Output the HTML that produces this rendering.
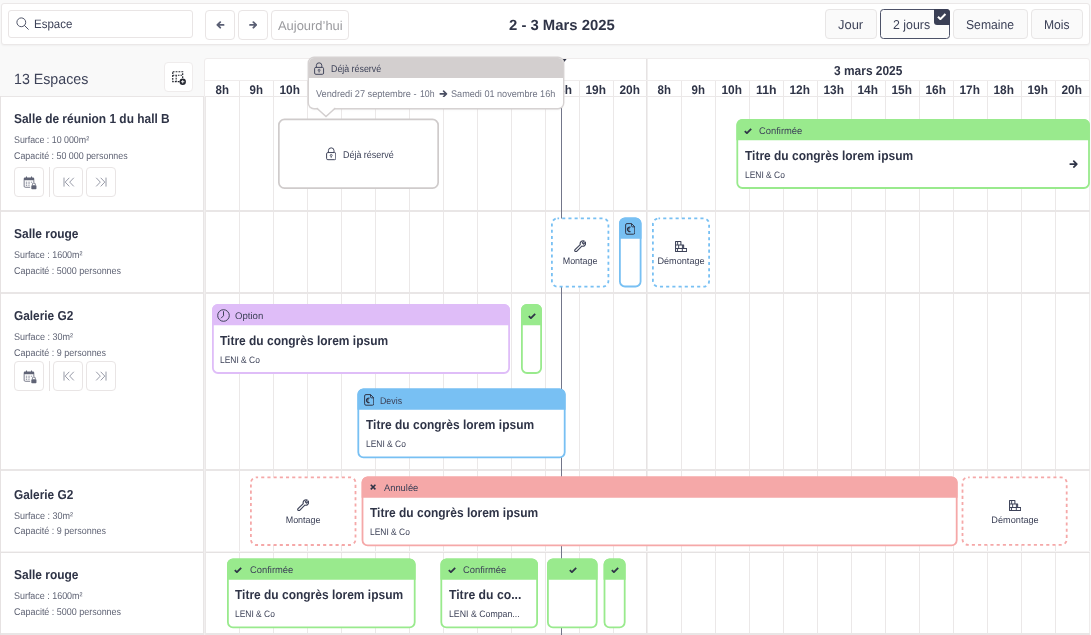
<!DOCTYPE html>
<html lang="fr">
<head>
<meta charset="utf-8">
<title>Planning des espaces</title>
<style>
html,body{margin:0;padding:0;}
body{width:1091px;height:635px;overflow:hidden;background:#f9f9f9;font-family:"Liberation Sans",sans-serif;}
#app{position:relative;width:1091px;height:635px;overflow:hidden;background:#f9f9f9;}
#app div,#app svg{box-sizing:border-box;}
.t{position:absolute;white-space:nowrap;line-height:1;}
.btn{background:#fff;border:1px solid #e9e5e5;border-radius:4px;}
.vl{position:absolute;width:1px;background:#ebe8e8;}
.hl{position:absolute;height:2px;background:#e9e6e6;}
</style>
</head>
<body>
<div id="app">

<div class="" style="position:absolute;left:1px;top:3px;width:1089px;height:42px;background:#fff;border:1px solid #ebe8e8;border-radius:3px;box-shadow:0 1px 2px rgba(0,0,0,0.04);"></div>
<div class="btn" style="position:absolute;left:8px;top:10px;width:185px;height:28px;border-radius:3px;"></div>
<svg style="position:absolute;left:16px;top:17px;" width="13" height="13" viewBox="0 0 26 26"><circle cx="10.6" cy="10.6" r="8.8" fill="none" stroke="#4a4f63" stroke-width="1.9"/><path d="M17 17 L24.6 24.6" stroke="#4a4f63" stroke-width="2" stroke-linecap="round"/></svg>
<div class="t " style="left:33.85px;top:18.15px;font-size:12.1px;color:#3d4258;transform-origin:0 0;transform:scaleX(0.9514) rotate(0.04deg);">Espace</div>
<div class="btn" style="position:absolute;left:205px;top:10px;width:30px;height:30px;"></div>
<svg style="position:absolute;left:216.2px;top:20.9px;" width="8.6" height="7.9" viewBox="0 0 20 18"><g transform="translate(20 0) scale(-1 1)"><path d="M2.4 9 H16.4 M10.2 2.6 L16.8 9 L10.2 15.4" fill="none" stroke="#5a5f74" stroke-width="4.2" stroke-linecap="round" stroke-linejoin="round"/></g></svg>
<div class="btn" style="position:absolute;left:238px;top:10px;width:30px;height:30px;"></div>
<svg style="position:absolute;left:248.8px;top:20.9px;" width="8.6" height="7.9" viewBox="0 0 20 18"><g><path d="M2.4 9 H16.4 M10.2 2.6 L16.8 9 L10.2 15.4" fill="none" stroke="#5a5f74" stroke-width="4.2" stroke-linecap="round" stroke-linejoin="round"/></g></svg>
<div class="btn" style="position:absolute;left:271px;top:10px;width:78px;height:30px;"></div>
<div class="t " style="left:278.15px;top:20.05px;font-size:12.9px;color:#9a9a9e;transform-origin:0 0;transform:scaleX(1.0024) rotate(0.04deg);">Aujourd’hui</div>
<div class="t " style="left:509.45px;top:18.4px;font-size:14.8px;color:#2f3447;transform-origin:0 0;transform:scaleX(1.0037) rotate(0.04deg);font-weight:700;">2 - 3 Mars 2025</div>
<div class="btn" style="position:absolute;left:825px;top:9px;width:52px;height:30px;background:#fafafa;border-color:#e8e6e6;"></div>
<div class="t " style="left:837.95px;top:19.05px;font-size:12.9px;color:#3d4258;transform-origin:0 0;transform:scaleX(1.0042) rotate(0.04deg);">Jour</div>
<div class="btn" style="position:absolute;left:880px;top:9px;width:70px;height:30px;border:1px solid #4d5268;border-radius:3.5px;background:#fbfbfb;"></div>
<div class="t " style="left:892.55px;top:19.05px;font-size:12.9px;color:#3d4258;transform-origin:0 0;transform:scaleX(0.9582) rotate(0.04deg);">2 jours</div>
<div class="" style="position:absolute;left:934px;top:9px;width:16px;height:15.6px;background:#3a3f55;border-radius:0 3.5px 0 3px;"></div>
<svg style="position:absolute;left:937.3px;top:13.28px;" width="9.4" height="7.05" viewBox="0 0 16 12"><path d="M1.6 6.4 L5.8 10.4 L14.4 1.8" fill="none" stroke="#fff" stroke-width="3.5" stroke-linecap="butt" stroke-linejoin="miter"/></svg>
<div class="btn" style="position:absolute;left:953px;top:9px;width:75px;height:30px;background:#fafafa;border-color:#e8e6e6;"></div>
<div class="t " style="left:965.85px;top:19.05px;font-size:12.9px;color:#3d4258;transform-origin:0 0;transform:scaleX(0.9447) rotate(0.04deg);">Semaine</div>
<div class="btn" style="position:absolute;left:1031px;top:9px;width:52px;height:30px;background:#fafafa;border-color:#e8e6e6;"></div>
<div class="t " style="left:1043.95px;top:19.05px;font-size:12.9px;color:#3d4258;transform-origin:0 0;transform:scaleX(0.9399) rotate(0.04deg);">Mois</div>
<div class="t " style="left:13.75px;top:71.7px;font-size:14.8px;color:#3d4258;transform-origin:0 0;transform:scaleX(0.9607) rotate(0.04deg);">13 Espaces</div>
<div class="btn" style="position:absolute;left:164px;top:62px;width:29px;height:30px;border-color:#efecec;"></div>
<svg style="position:absolute;left:172px;top:71px;" width="14.4" height="14.4" viewBox="0 0 29 29"><rect x="1.5" y="1.5" width="20" height="20" fill="none" stroke="#23262f" stroke-width="2.4" stroke-dasharray="3.6 2.2"/><path d="M1.5 8.6 H21.5 M8.4 8.6 V21.5" fill="none" stroke="#23262f" stroke-width="2.2" stroke-dasharray="3.2 2"/><circle cx="21.6" cy="21.6" r="6.4" fill="#23262f"/><path d="M21.6 18.2 V25 M18.2 21.6 H25" stroke="#fff" stroke-width="1.8"/></svg>
<div class="" style="position:absolute;left:204px;top:58px;width:886px;height:580px;background:#fff;border:1px solid #efecec;border-radius:3px 3px 0 0;"></div>
<div class="" style="position:absolute;left:0px;top:96px;width:204px;height:540px;background:#fff;"></div>
<div class="vl" style="left:239px;top:81px;height:554px;"></div>
<div class="vl" style="left:273px;top:81px;height:554px;"></div>
<div class="vl" style="left:307px;top:81px;height:554px;"></div>
<div class="vl" style="left:341px;top:81px;height:554px;"></div>
<div class="vl" style="left:375px;top:81px;height:554px;"></div>
<div class="vl" style="left:409px;top:81px;height:554px;"></div>
<div class="vl" style="left:443px;top:81px;height:554px;"></div>
<div class="vl" style="left:477px;top:81px;height:554px;"></div>
<div class="vl" style="left:511px;top:81px;height:554px;"></div>
<div class="vl" style="left:545px;top:81px;height:554px;"></div>
<div class="vl" style="left:579px;top:81px;height:554px;"></div>
<div class="vl" style="left:613px;top:81px;height:554px;"></div>
<div class="vl" style="left:647px;top:59px;height:576px;background:#f1efef;"></div>
<div class="vl" style="left:646px;top:59px;height:576px;background:#e6e3e3;"></div>
<div class="vl" style="left:681px;top:81px;height:554px;"></div>
<div class="vl" style="left:715px;top:81px;height:554px;"></div>
<div class="vl" style="left:749px;top:81px;height:554px;"></div>
<div class="vl" style="left:783px;top:81px;height:554px;"></div>
<div class="vl" style="left:817px;top:81px;height:554px;"></div>
<div class="vl" style="left:851px;top:81px;height:554px;"></div>
<div class="vl" style="left:885px;top:81px;height:554px;"></div>
<div class="vl" style="left:919px;top:81px;height:554px;"></div>
<div class="vl" style="left:953px;top:81px;height:554px;"></div>
<div class="vl" style="left:987px;top:81px;height:554px;"></div>
<div class="vl" style="left:1021px;top:81px;height:554px;"></div>
<div class="vl" style="left:1055px;top:81px;height:554px;"></div>
<div class="" style="position:absolute;left:205px;top:80px;width:884px;height:1px;background:#efecec;"></div>
<div class="hl" style="left:0;top:96px;width:204px;height:1px;"></div>
<div class="hl" style="left:204px;top:96px;width:886px;height:1px;background:#ebe8e8;"></div>
<div class="hl" style="left:0;top:210px;width:1090px;height:2px;"></div>
<div class="hl" style="left:0;top:292px;width:1090px;height:2px;"></div>
<div class="hl" style="left:0;top:469px;width:1090px;height:2px;"></div>
<div class="hl" style="left:0;top:551px;width:1090px;height:1px;background:#f5f3f3;"></div>
<div class="hl" style="left:0;top:552px;width:1090px;height:1px;background:#e5e2e2;"></div>
<div class="hl" style="left:0;top:633px;width:1090px;height:2px;"></div>
<div class="" style="position:absolute;left:203px;top:96px;width:1px;height:540px;background:#e8e5e5;"></div>
<div class="" style="position:absolute;left:204px;top:96px;width:1px;height:540px;background:#f1efef;"></div>
<div class="" style="position:absolute;left:205px;top:96px;width:1px;height:540px;background:#ebe8e8;"></div>
<div class="" style="position:absolute;left:0px;top:96px;width:1px;height:540px;background:#e6e2e2;"></div>
<div class="t " style="left:388.77px;top:64px;font-size:13px;color:#2f3447;transform-origin:50% 0;transform:scaleX(0.9174) rotate(0.04deg);font-weight:700;">2 mars 2025</div>
<div class="t " style="left:831.37px;top:64px;font-size:13px;color:#2f3447;transform-origin:50% 0;transform:scaleX(0.9174) rotate(0.04deg);font-weight:700;">3 mars 2025</div>
<div class="t " style="left:214.86px;top:84.2px;font-size:12.4px;color:#2f3447;transform-origin:50% 0;transform:scaleX(0.9260) rotate(0.04deg);font-weight:700;">8h</div>
<div class="t " style="left:248.86px;top:84.2px;font-size:12.4px;color:#2f3447;transform-origin:50% 0;transform:scaleX(0.9260) rotate(0.04deg);font-weight:700;">9h</div>
<div class="t " style="left:279.42px;top:84.2px;font-size:12.4px;color:#2f3447;transform-origin:50% 0;transform:scaleX(0.9594) rotate(0.04deg);font-weight:700;">10h</div>
<div class="t " style="left:313.76px;top:84.2px;font-size:12.4px;color:#2f3447;transform-origin:50% 0;transform:scaleX(0.9911) rotate(0.04deg);font-weight:700;">11h</div>
<div class="t " style="left:347.42px;top:84.2px;font-size:12.4px;color:#2f3447;transform-origin:50% 0;transform:scaleX(0.9594) rotate(0.04deg);font-weight:700;">12h</div>
<div class="t " style="left:381.42px;top:84.2px;font-size:12.4px;color:#2f3447;transform-origin:50% 0;transform:scaleX(0.9594) rotate(0.04deg);font-weight:700;">13h</div>
<div class="t " style="left:415.42px;top:84.2px;font-size:12.4px;color:#2f3447;transform-origin:50% 0;transform:scaleX(0.9594) rotate(0.04deg);font-weight:700;">14h</div>
<div class="t " style="left:449.42px;top:84.2px;font-size:12.4px;color:#2f3447;transform-origin:50% 0;transform:scaleX(0.9594) rotate(0.04deg);font-weight:700;">15h</div>
<div class="t " style="left:483.42px;top:84.2px;font-size:12.4px;color:#2f3447;transform-origin:50% 0;transform:scaleX(0.9594) rotate(0.04deg);font-weight:700;">16h</div>
<div class="t " style="left:517.42px;top:84.2px;font-size:12.4px;color:#2f3447;transform-origin:50% 0;transform:scaleX(0.9594) rotate(0.04deg);font-weight:700;">17h</div>
<div class="t " style="left:551.42px;top:84.2px;font-size:12.4px;color:#2f3447;transform-origin:50% 0;transform:scaleX(0.9594) rotate(0.04deg);font-weight:700;">18h</div>
<div class="t " style="left:585.42px;top:84.2px;font-size:12.4px;color:#2f3447;transform-origin:50% 0;transform:scaleX(0.9594) rotate(0.04deg);font-weight:700;">19h</div>
<div class="t " style="left:619.42px;top:84.2px;font-size:12.4px;color:#2f3447;transform-origin:50% 0;transform:scaleX(0.9594) rotate(0.04deg);font-weight:700;">20h</div>
<div class="t " style="left:656.86px;top:84.2px;font-size:12.4px;color:#2f3447;transform-origin:50% 0;transform:scaleX(0.9260) rotate(0.04deg);font-weight:700;">8h</div>
<div class="t " style="left:690.86px;top:84.2px;font-size:12.4px;color:#2f3447;transform-origin:50% 0;transform:scaleX(0.9260) rotate(0.04deg);font-weight:700;">9h</div>
<div class="t " style="left:721.42px;top:84.2px;font-size:12.4px;color:#2f3447;transform-origin:50% 0;transform:scaleX(0.9594) rotate(0.04deg);font-weight:700;">10h</div>
<div class="t " style="left:755.76px;top:84.2px;font-size:12.4px;color:#2f3447;transform-origin:50% 0;transform:scaleX(0.9911) rotate(0.04deg);font-weight:700;">11h</div>
<div class="t " style="left:789.42px;top:84.2px;font-size:12.4px;color:#2f3447;transform-origin:50% 0;transform:scaleX(0.9594) rotate(0.04deg);font-weight:700;">12h</div>
<div class="t " style="left:823.42px;top:84.2px;font-size:12.4px;color:#2f3447;transform-origin:50% 0;transform:scaleX(0.9594) rotate(0.04deg);font-weight:700;">13h</div>
<div class="t " style="left:857.42px;top:84.2px;font-size:12.4px;color:#2f3447;transform-origin:50% 0;transform:scaleX(0.9594) rotate(0.04deg);font-weight:700;">14h</div>
<div class="t " style="left:891.42px;top:84.2px;font-size:12.4px;color:#2f3447;transform-origin:50% 0;transform:scaleX(0.9594) rotate(0.04deg);font-weight:700;">15h</div>
<div class="t " style="left:925.42px;top:84.2px;font-size:12.4px;color:#2f3447;transform-origin:50% 0;transform:scaleX(0.9594) rotate(0.04deg);font-weight:700;">16h</div>
<div class="t " style="left:959.42px;top:84.2px;font-size:12.4px;color:#2f3447;transform-origin:50% 0;transform:scaleX(0.9594) rotate(0.04deg);font-weight:700;">17h</div>
<div class="t " style="left:993.42px;top:84.2px;font-size:12.4px;color:#2f3447;transform-origin:50% 0;transform:scaleX(0.9594) rotate(0.04deg);font-weight:700;">18h</div>
<div class="t " style="left:1027.42px;top:84.2px;font-size:12.4px;color:#2f3447;transform-origin:50% 0;transform:scaleX(0.9594) rotate(0.04deg);font-weight:700;">19h</div>
<div class="t " style="left:1061.42px;top:84.2px;font-size:12.4px;color:#2f3447;transform-origin:50% 0;transform:scaleX(0.9594) rotate(0.04deg);font-weight:700;">20h</div>
<div class="t " style="left:14.15px;top:112px;font-size:13px;color:#2f3447;transform-origin:0 0;transform:scaleX(0.9172) rotate(0.04deg);font-weight:700;">Salle de réunion 1 du hall B</div>
<div class="t " style="left:14.15px;top:135.2px;font-size:9.8px;color:#5f6374;transform-origin:0 0;transform:scaleX(0.9011) rotate(0.04deg);">Surface : 10 000m²</div>
<div class="t " style="left:14.15px;top:151px;font-size:9.8px;color:#5f6374;transform-origin:0 0;transform:scaleX(0.9073) rotate(0.04deg);">Capacité : 50 000 personnes</div>
<div class="btn" style="position:absolute;left:14px;top:167px;width:30px;height:30px;"></div>
<svg style="position:absolute;left:22.8px;top:176.2px;" width="14.2" height="13.7" viewBox="0 0 27 26"><path d="M1.4 5.4 a2.4 2.4 0 0 1 2.4 -2.4 H19 a2.4 2.4 0 0 1 2.4 2.4 V8 H1.4 Z" fill="#5f6375"/><path d="M6.6 0.8 V4 M16.2 0.8 V4" stroke="#5f6375" stroke-width="2"/><path d="M2.2 8 V19.4 a2 2 0 0 0 2 2 H13.6 M20.6 8 V11.6" fill="none" stroke="#5f6375" stroke-width="1.6"/><path d="M5.4 11.8 H8 M10.2 11.8 H12.8 M15 11.8 H17.4 M5.4 14.8 H8 M10.2 14.8 H12.8 M5.4 17.8 H8 M10.2 17.8 H12.4" stroke="#777b8b" stroke-width="1.6"/><rect x="15.8" y="17.4" width="9.8" height="7.8" rx="1.4" fill="#5f6375"/><path d="M18 17.6 V15.8 a2.7 2.7 0 0 1 5.4 0 V17.6" fill="none" stroke="#5f6375" stroke-width="1.7"/></svg>
<div class="" style="position:absolute;left:49px;top:167px;width:1px;height:30px;background:#e6e2e2;"></div>
<div class="btn" style="position:absolute;left:53px;top:167px;width:30px;height:30px;"></div>
<svg style="position:absolute;left:62.8px;top:177.4px;" width="12" height="10.2" viewBox="0 0 24 20"><path d="M2 1 V19 M12.6 1.4 L4.4 10 L12.6 18.6 M21.6 1.4 L13.4 10 L21.6 18.6" fill="none" stroke="#747889" stroke-width="1.5"/></svg>
<div class="btn" style="position:absolute;left:86px;top:167px;width:30px;height:30px;"></div>
<svg style="position:absolute;left:95.2px;top:177.4px;" width="12" height="10.2" viewBox="0 0 24 20"><path d="M22 1 V19 M11.4 1.4 L19.6 10 L11.4 18.6 M2.4 1.4 L10.6 10 L2.4 18.6" fill="none" stroke="#747889" stroke-width="1.5"/></svg>
<div class="t " style="left:14.15px;top:227px;font-size:13px;color:#2f3447;transform-origin:0 0;transform:scaleX(0.9204) rotate(0.04deg);font-weight:700;">Salle rouge</div>
<div class="t " style="left:14.15px;top:250px;font-size:9.8px;color:#5f6374;transform-origin:0 0;transform:scaleX(0.9112) rotate(0.04deg);">Surface : 1600m²</div>
<div class="t " style="left:14.15px;top:265.6px;font-size:9.8px;color:#5f6374;transform-origin:0 0;transform:scaleX(0.9143) rotate(0.04deg);">Capacité : 5000 personnes</div>
<div class="t " style="left:14.15px;top:309px;font-size:13px;color:#2f3447;transform-origin:0 0;transform:scaleX(0.9118) rotate(0.04deg);font-weight:700;">Galerie G2</div>
<div class="t " style="left:14.15px;top:332px;font-size:9.8px;color:#5f6374;transform-origin:0 0;transform:scaleX(0.9195) rotate(0.04deg);">Surface : 30m²</div>
<div class="t " style="left:14.15px;top:347.6px;font-size:9.8px;color:#5f6374;transform-origin:0 0;transform:scaleX(0.9138) rotate(0.04deg);">Capacité : 9 personnes</div>
<div class="btn" style="position:absolute;left:14px;top:361px;width:30px;height:30px;"></div>
<svg style="position:absolute;left:22.8px;top:370.2px;" width="14.2" height="13.7" viewBox="0 0 27 26"><path d="M1.4 5.4 a2.4 2.4 0 0 1 2.4 -2.4 H19 a2.4 2.4 0 0 1 2.4 2.4 V8 H1.4 Z" fill="#5f6375"/><path d="M6.6 0.8 V4 M16.2 0.8 V4" stroke="#5f6375" stroke-width="2"/><path d="M2.2 8 V19.4 a2 2 0 0 0 2 2 H13.6 M20.6 8 V11.6" fill="none" stroke="#5f6375" stroke-width="1.6"/><path d="M5.4 11.8 H8 M10.2 11.8 H12.8 M15 11.8 H17.4 M5.4 14.8 H8 M10.2 14.8 H12.8 M5.4 17.8 H8 M10.2 17.8 H12.4" stroke="#777b8b" stroke-width="1.6"/><rect x="15.8" y="17.4" width="9.8" height="7.8" rx="1.4" fill="#5f6375"/><path d="M18 17.6 V15.8 a2.7 2.7 0 0 1 5.4 0 V17.6" fill="none" stroke="#5f6375" stroke-width="1.7"/></svg>
<div class="" style="position:absolute;left:49px;top:361px;width:1px;height:30px;background:#e6e2e2;"></div>
<div class="btn" style="position:absolute;left:53px;top:361px;width:30px;height:30px;"></div>
<svg style="position:absolute;left:62.8px;top:371.4px;" width="12" height="10.2" viewBox="0 0 24 20"><path d="M2 1 V19 M12.6 1.4 L4.4 10 L12.6 18.6 M21.6 1.4 L13.4 10 L21.6 18.6" fill="none" stroke="#747889" stroke-width="1.5"/></svg>
<div class="btn" style="position:absolute;left:86px;top:361px;width:30px;height:30px;"></div>
<svg style="position:absolute;left:95.2px;top:371.4px;" width="12" height="10.2" viewBox="0 0 24 20"><path d="M22 1 V19 M11.4 1.4 L19.6 10 L11.4 18.6 M2.4 1.4 L10.6 10 L2.4 18.6" fill="none" stroke="#747889" stroke-width="1.5"/></svg>
<div class="t " style="left:14.15px;top:487.6px;font-size:13px;color:#2f3447;transform-origin:0 0;transform:scaleX(0.9118) rotate(0.04deg);font-weight:700;">Galerie G2</div>
<div class="t " style="left:14.15px;top:511px;font-size:9.8px;color:#5f6374;transform-origin:0 0;transform:scaleX(0.9195) rotate(0.04deg);">Surface : 30m²</div>
<div class="t " style="left:14.15px;top:526.4px;font-size:9.8px;color:#5f6374;transform-origin:0 0;transform:scaleX(0.9138) rotate(0.04deg);">Capacité : 9 personnes</div>
<div class="t " style="left:14.15px;top:568.4px;font-size:13px;color:#2f3447;transform-origin:0 0;transform:scaleX(0.9204) rotate(0.04deg);font-weight:700;">Salle rouge</div>
<div class="t " style="left:14.15px;top:591px;font-size:9.8px;color:#5f6374;transform-origin:0 0;transform:scaleX(0.9112) rotate(0.04deg);">Surface : 1600m²</div>
<div class="t " style="left:14.15px;top:606.6px;font-size:9.8px;color:#5f6374;transform-origin:0 0;transform:scaleX(0.9143) rotate(0.04deg);">Capacité : 5000 personnes</div>
<div class="" style="position:absolute;left:560.9px;top:59px;width:1.3px;height:576px;background:#73768a;"></div>
<svg style="position:absolute;left:561.4px;top:58.8px;" width="5.6" height="3.6" viewBox="0 0 10 6"><path d="M0 0 H10 L5 6 Z" fill="#2f3447"/></svg>
<svg style="position:absolute;left:277px;top:117px;" width="163" height="73" viewBox="0 0 163 73"><rect x="1.85" y="2.45" width="159.3" height="68.7" rx="5.65" fill="#fff" stroke="#cfcbcb" stroke-width="1.7"/></svg>
<svg style="position:absolute;left:325.6px;top:147.2px;" width="10.4" height="13.4" viewBox="0 0 21 27"><rect x="1.2" y="11.2" width="18.6" height="14.4" rx="2.6" fill="none" stroke="#3d4258" stroke-width="2"/><path d="M4.8 11 V7.4 a5.7 5.7 0 0 1 11.4 0 V11" fill="none" stroke="#3d4258" stroke-width="2"/><circle cx="10.5" cy="17" r="2" fill="none" stroke="#3d4258" stroke-width="1.6"/><path d="M10.5 19 V22" stroke="#3d4258" stroke-width="1.6"/></svg>
<div class="t " style="left:342.55px;top:150px;font-size:9.8px;color:#3d4258;transform-origin:0 0;transform:scaleX(0.9126) rotate(0.04deg);">Déjà réservé</div>
<svg style="position:absolute;left:735px;top:118px;" width="356" height="72" viewBox="0 0 356 72"><rect x="2.3" y="1.9" width="351.7" height="68.1" rx="5.1" fill="#fff" stroke="#99ea8d" stroke-width="1.8"/><path d="M1.4 22.3 V7 a6 6 0 0 1 6 -6 H348.9 a6 6 0 0 1 6 6 V22.3 Z" fill="#99ea8d"/></svg>
<svg style="position:absolute;left:743.8px;top:128px;" width="8" height="6" viewBox="0 0 16 12"><path d="M1.6 6.4 L5.8 10.4 L14.4 1.8" fill="none" stroke="#2f3447" stroke-width="3.5" stroke-linecap="butt" stroke-linejoin="miter"/></svg>
<div class="t " style="left:758.95px;top:126.3px;font-size:9.6px;color:#3d4258;transform-origin:0 0;transform:scaleX(0.9778) rotate(0.04deg);">Confirmée</div>
<div class="t " style="left:744.65px;top:148.6px;font-size:13px;color:#2f3447;transform-origin:0 0;transform:scaleX(0.9210) rotate(0.04deg);font-weight:700;">Titre du congrès lorem ipsum</div>
<div class="t " style="left:744.65px;top:170.85px;font-size:9.3px;color:#3d4258;transform-origin:0 0;transform:scaleX(0.9082) rotate(0.04deg);">LENI &amp; Co</div>
<svg style="position:absolute;left:1068.9px;top:160px;" width="9.4" height="8.2" viewBox="0 0 20 18"><g><path d="M2.4 9 H16.4 M10.2 2.6 L16.8 9 L10.2 15.4" fill="none" stroke="#2f3447" stroke-width="3.8" stroke-linecap="round" stroke-linejoin="round"/></g></svg>
<svg style="position:absolute;left:550px;top:216px;" width="61" height="73" viewBox="0 0 61 73"><rect x="1.9" y="2.4" width="56.5" height="68.3" rx="5.6" fill="#fff" stroke="#78c0f3" stroke-width="1.8" stroke-dasharray="3.1 3.1" stroke-dashoffset="1.5"/></svg>
<svg style="position:absolute;left:573.85px;top:239.9px;" width="12.4" height="12.4" viewBox="0 0 25 25"><path d="M2.2 22.8 a2.3 2.3 0 0 1 0 -3.2 L12.6 9.2 a6 6 0 0 1 8 -7.2 L16.8 5.8 L19.2 8.2 L23 4.4 a6 6 0 0 1 -7.2 8 L5.4 22.8 a2.3 2.3 0 0 1 -3.2 0 Z" fill="none" stroke="#3d4258" stroke-width="2.3" stroke-linejoin="round"/></svg>
<div class="t " style="left:562.05px;top:256.95px;font-size:9.3px;color:#3d4258;transform-origin:50% 0;transform:scaleX(0.9615) rotate(0.04deg);">Montage</div>
<svg style="position:absolute;left:618px;top:216px;" width="25" height="73" viewBox="0 0 25 73"><rect x="1.9" y="2.4" width="20.7" height="68.1" rx="5.1" fill="#fff" stroke="#78c0f3" stroke-width="1.8"/><path d="M1 22.8 V7.5 a6 6 0 0 1 6 -6 H17.5 a6 6 0 0 1 6 6 V22.8 Z" fill="#78c0f3"/></svg>
<svg style="position:absolute;left:624.95px;top:223.3px;" width="10.4" height="11.8" viewBox="0 0 21 24"><path d="M4 1.2 H13.2 L19.8 7.8 V20 a2.8 2.8 0 0 1 -2.8 2.8 H4 a2.8 2.8 0 0 1 -2.8 -2.8 V4 a2.8 2.8 0 0 1 2.8 -2.8 Z" fill="none" stroke="#2f3447" stroke-width="2"/><path d="M13.2 1.2 V5.6 a2.2 2.2 0 0 0 2.2 2.2 H19.8" fill="none" stroke="#2f3447" stroke-width="2"/><path d="M11.2 8.6 a4.6 4.6 0 1 0 0 8.6" fill="none" stroke="#2f3447" stroke-width="2.4"/><path d="M4.4 11.6 H9.6 M4.4 14.4 H9.2" fill="none" stroke="#2f3447" stroke-width="1.6"/></svg>
<svg style="position:absolute;left:651px;top:216px;" width="60" height="73" viewBox="0 0 60 73"><rect x="1.9" y="2.4" width="56.2" height="68.3" rx="5.6" fill="#fff" stroke="#78c0f3" stroke-width="1.8" stroke-dasharray="3.1 3.1" stroke-dashoffset="1.5"/></svg>
<svg style="position:absolute;left:674.9px;top:241.1px;" width="12.2" height="11.2" viewBox="0 0 24 22"><path d="M1.1 1.1 H11.6 V7.8 H17 V14.7 H22.9 V20.9 H1.1 Z M1.1 7.8 H11.6 M1.1 14.7 H17" fill="none" stroke="#3d4258" stroke-width="2.1" stroke-linejoin="round"/><path d="M5.2 1.1 V7.8 M7.2 7.8 V14.7 M14.6 7.8 V14.7 M5 14.7 V20.9 M14.4 14.7 V20.9" fill="none" stroke="#3d4258" stroke-width="1.9"/></svg>
<div class="t " style="left:656.96px;top:256.95px;font-size:9.3px;color:#3d4258;transform-origin:50% 0;transform:scaleX(0.9817) rotate(0.04deg);">Démontage</div>
<svg style="position:absolute;left:211px;top:303px;" width="300" height="72" viewBox="0 0 300 72"><rect x="1.9" y="1.9" width="296.2" height="68.1" rx="5.1" fill="#fff" stroke="#dfbdf8" stroke-width="1.8"/><path d="M1 22.3 V7 a6 6 0 0 1 6 -6 H293 a6 6 0 0 1 6 6 V22.3 Z" fill="#dfbdf8"/></svg>
<svg style="position:absolute;left:217px;top:308.6px;" width="13" height="13" viewBox="0 0 26 26"><circle cx="13" cy="13" r="11.6" fill="none" stroke="#3d4258" stroke-width="2"/><path d="M13 4.5 V13.5 L8 18.5" fill="none" stroke="#3d4258" stroke-width="2"/></svg>
<div class="t " style="left:234.55px;top:311.3px;font-size:9.6px;color:#3d4258;transform-origin:0 0;transform:scaleX(1.0005) rotate(0.04deg);">Option</div>
<div class="t " style="left:220.25px;top:333.6px;font-size:13px;color:#2f3447;transform-origin:0 0;transform:scaleX(0.9210) rotate(0.04deg);font-weight:700;">Titre du congrès lorem ipsum</div>
<div class="t " style="left:220.25px;top:355.85px;font-size:9.3px;color:#3d4258;transform-origin:0 0;transform:scaleX(0.9082) rotate(0.04deg);">LENI &amp; Co</div>
<svg style="position:absolute;left:520px;top:303px;" width="23" height="72" viewBox="0 0 23 72"><rect x="1.9" y="1.9" width="19.2" height="68.1" rx="5.1" fill="#fff" stroke="#99ea8d" stroke-width="1.8"/><path d="M1 22.3 V7 a6 6 0 0 1 6 -6 H16 a6 6 0 0 1 6 6 V22.3 Z" fill="#99ea8d"/></svg>
<svg style="position:absolute;left:527.7px;top:312.6px;" width="8" height="6" viewBox="0 0 16 12"><path d="M1.6 6.4 L5.8 10.4 L14.4 1.8" fill="none" stroke="#2f3447" stroke-width="3.5" stroke-linecap="butt" stroke-linejoin="miter"/></svg>
<svg style="position:absolute;left:356px;top:387px;" width="211" height="73" viewBox="0 0 211 73"><rect x="2.3" y="2.3" width="206.4" height="68.1" rx="5.1" fill="#fff" stroke="#78c0f3" stroke-width="1.8"/><path d="M1.4 22.7 V7.4 a6 6 0 0 1 6 -6 H203.6 a6 6 0 0 1 6 6 V22.7 Z" fill="#78c0f3"/></svg>
<svg style="position:absolute;left:364px;top:394.1px;" width="10.4" height="11.8" viewBox="0 0 21 24"><path d="M4 1.2 H13.2 L19.8 7.8 V20 a2.8 2.8 0 0 1 -2.8 2.8 H4 a2.8 2.8 0 0 1 -2.8 -2.8 V4 a2.8 2.8 0 0 1 2.8 -2.8 Z" fill="none" stroke="#2f3447" stroke-width="2"/><path d="M13.2 1.2 V5.6 a2.2 2.2 0 0 0 2.2 2.2 H19.8" fill="none" stroke="#2f3447" stroke-width="2"/><path d="M11.2 8.6 a4.6 4.6 0 1 0 0 8.6" fill="none" stroke="#2f3447" stroke-width="2.4"/><path d="M4.4 11.6 H9.6 M4.4 14.4 H9.2" fill="none" stroke="#2f3447" stroke-width="1.6"/></svg>
<div class="t " style="left:379.95px;top:395.7px;font-size:9.6px;color:#3d4258;transform-origin:0 0;transform:scaleX(0.9206) rotate(0.04deg);">Devis</div>
<div class="t " style="left:365.65px;top:418px;font-size:13px;color:#2f3447;transform-origin:0 0;transform:scaleX(0.9210) rotate(0.04deg);font-weight:700;">Titre du congrès lorem ipsum</div>
<div class="t " style="left:365.65px;top:440.25px;font-size:9.3px;color:#3d4258;transform-origin:0 0;transform:scaleX(0.9082) rotate(0.04deg);">LENI &amp; Co</div>
<svg style="position:absolute;left:249px;top:475px;" width="109" height="72" viewBox="0 0 109 72"><rect x="1.9" y="2.3" width="104.6" height="67.7" rx="5.6" fill="#fff" stroke="#f5a8a8" stroke-width="1.8" stroke-dasharray="3.1 3.1" stroke-dashoffset="1.5"/></svg>
<svg style="position:absolute;left:296.9px;top:498.8px;" width="12.4" height="12.4" viewBox="0 0 25 25"><path d="M2.2 22.8 a2.3 2.3 0 0 1 0 -3.2 L12.6 9.2 a6 6 0 0 1 8 -7.2 L16.8 5.8 L19.2 8.2 L23 4.4 a6 6 0 0 1 -7.2 8 L5.4 22.8 a2.3 2.3 0 0 1 -3.2 0 Z" fill="none" stroke="#3d4258" stroke-width="2.3" stroke-linejoin="round"/></svg>
<div class="t " style="left:285.1px;top:515.85px;font-size:9.3px;color:#3d4258;transform-origin:50% 0;transform:scaleX(0.9615) rotate(0.04deg);">Montage</div>
<svg style="position:absolute;left:360px;top:475px;" width="599" height="73" viewBox="0 0 599 73"><rect x="2.5" y="2.3" width="594.2" height="68.1" rx="5.1" fill="#fff" stroke="#f5a8a8" stroke-width="1.8"/><path d="M1.6 22.7 V7.4 a6 6 0 0 1 6 -6 H591.6 a6 6 0 0 1 6 6 V22.7 Z" fill="#f5a8a8"/></svg>
<svg style="position:absolute;left:369.9px;top:484.4px;" width="6.2" height="6.2" viewBox="0 0 12 12"><path d="M1.5 1.5 L10.5 10.5 M10.5 1.5 L1.5 10.5" fill="none" stroke="#2f3447" stroke-width="3"/></svg>
<div class="t " style="left:384.15px;top:483.2px;font-size:9.6px;color:#3d4258;transform-origin:0 0;transform:scaleX(0.9735) rotate(0.04deg);">Annulée</div>
<div class="t " style="left:369.85px;top:506px;font-size:13px;color:#2f3447;transform-origin:0 0;transform:scaleX(0.9210) rotate(0.04deg);font-weight:700;">Titre du congrès lorem ipsum</div>
<div class="t " style="left:369.85px;top:528.25px;font-size:9.3px;color:#3d4258;transform-origin:0 0;transform:scaleX(0.9082) rotate(0.04deg);">LENI &amp; Co</div>
<svg style="position:absolute;left:960px;top:475px;" width="109" height="72" viewBox="0 0 109 72"><rect x="2.5" y="2.3" width="104.2" height="67.6" rx="5.6" fill="#fff" stroke="#f5a8a8" stroke-width="1.8" stroke-dasharray="3.1 3.1" stroke-dashoffset="1.5"/></svg>
<svg style="position:absolute;left:1008.5px;top:500px;" width="12.2" height="11.2" viewBox="0 0 24 22"><path d="M1.1 1.1 H11.6 V7.8 H17 V14.7 H22.9 V20.9 H1.1 Z M1.1 7.8 H11.6 M1.1 14.7 H17" fill="none" stroke="#3d4258" stroke-width="2.1" stroke-linejoin="round"/><path d="M5.2 1.1 V7.8 M7.2 7.8 V14.7 M14.6 7.8 V14.7 M5 14.7 V20.9 M14.4 14.7 V20.9" fill="none" stroke="#3d4258" stroke-width="1.9"/></svg>
<div class="t " style="left:990.56px;top:515.85px;font-size:9.3px;color:#3d4258;transform-origin:50% 0;transform:scaleX(0.9858) rotate(0.04deg);">Démontage</div>
<svg style="position:absolute;left:226px;top:557px;" width="191" height="73" viewBox="0 0 191 73"><rect x="1.9" y="2.3" width="186.8" height="68.1" rx="5.1" fill="#fff" stroke="#99ea8d" stroke-width="1.8"/><path d="M1 22.7 V7.4 a6 6 0 0 1 6 -6 H183.6 a6 6 0 0 1 6 6 V22.7 Z" fill="#99ea8d"/></svg>
<svg style="position:absolute;left:234.4px;top:567.4px;" width="8" height="6" viewBox="0 0 16 12"><path d="M1.6 6.4 L5.8 10.4 L14.4 1.8" fill="none" stroke="#2f3447" stroke-width="3.5" stroke-linecap="butt" stroke-linejoin="miter"/></svg>
<div class="t " style="left:249.55px;top:565.2px;font-size:9.6px;color:#3d4258;transform-origin:0 0;transform:scaleX(0.9778) rotate(0.04deg);">Confirmée</div>
<div class="t " style="left:235.25px;top:588px;font-size:13px;color:#2f3447;transform-origin:0 0;transform:scaleX(0.9210) rotate(0.04deg);font-weight:700;">Titre du congrès lorem ipsum</div>
<div class="t " style="left:235.25px;top:610.25px;font-size:9.3px;color:#3d4258;transform-origin:0 0;transform:scaleX(0.9082) rotate(0.04deg);">LENI &amp; Co</div>
<svg style="position:absolute;left:439px;top:557px;" width="100" height="73" viewBox="0 0 100 73"><rect x="2.3" y="2.3" width="95.8" height="68.1" rx="5.1" fill="#fff" stroke="#99ea8d" stroke-width="1.8"/><path d="M1.4 22.7 V7.4 a6 6 0 0 1 6 -6 H93 a6 6 0 0 1 6 6 V22.7 Z" fill="#99ea8d"/></svg>
<svg style="position:absolute;left:447.8px;top:567.4px;" width="8" height="6" viewBox="0 0 16 12"><path d="M1.6 6.4 L5.8 10.4 L14.4 1.8" fill="none" stroke="#2f3447" stroke-width="3.5" stroke-linecap="butt" stroke-linejoin="miter"/></svg>
<div class="t " style="left:462.95px;top:565.2px;font-size:9.6px;color:#3d4258;transform-origin:0 0;transform:scaleX(0.9778) rotate(0.04deg);">Confirmée</div>
<div class="t " style="left:448.65px;top:588px;font-size:13px;color:#2f3447;transform-origin:0 0;transform:scaleX(0.9384) rotate(0.04deg);font-weight:700;">Titre du co...</div>
<div class="t " style="left:448.65px;top:610.25px;font-size:9.3px;color:#3d4258;transform-origin:0 0;transform:scaleX(0.9433) rotate(0.04deg);">LENI &amp; Compan...</div>
<svg style="position:absolute;left:546px;top:557px;" width="53" height="73" viewBox="0 0 53 73"><rect x="1.9" y="2.3" width="48.8" height="68.1" rx="5.1" fill="#fff" stroke="#99ea8d" stroke-width="1.8"/><path d="M1 22.7 V7.4 a6 6 0 0 1 6 -6 H45.6 a6 6 0 0 1 6 6 V22.7 Z" fill="#99ea8d"/></svg>
<svg style="position:absolute;left:568.5px;top:567px;" width="8" height="6" viewBox="0 0 16 12"><path d="M1.6 6.4 L5.8 10.4 L14.4 1.8" fill="none" stroke="#2f3447" stroke-width="3.5" stroke-linecap="butt" stroke-linejoin="miter"/></svg>
<svg style="position:absolute;left:602px;top:557px;" width="25" height="73" viewBox="0 0 25 73"><rect x="2.5" y="2.3" width="20.2" height="68.1" rx="5.1" fill="#fff" stroke="#99ea8d" stroke-width="1.8"/><path d="M1.6 22.7 V7.4 a6 6 0 0 1 6 -6 H17.6 a6 6 0 0 1 6 6 V22.7 Z" fill="#99ea8d"/></svg>
<svg style="position:absolute;left:610.8px;top:567px;" width="8" height="6" viewBox="0 0 16 12"><path d="M1.6 6.4 L5.8 10.4 L14.4 1.8" fill="none" stroke="#2f3447" stroke-width="3.5" stroke-linecap="butt" stroke-linejoin="miter"/></svg>
<div style="position:absolute;left:309px;top:58px;width:254px;height:50px;background:#fff;border-radius:5px;box-shadow:0 0 0 1.4px #d6d2d2,0 1px 3px rgba(0,0,0,0.10);overflow:hidden;"><div style="position:absolute;left:0;top:0;right:0;height:19.8px;background:#d3cfcf;"></div></div>
<svg style="position:absolute;left:316px;top:107px;" width="20" height="12" viewBox="0 0 20 12"><path d="M0.6 0 H19.4 L10 9.6 Z" fill="#fff"/><path d="M0.6 1 L10 9.6 L19.4 1" fill="none" stroke="#d3cfcf" stroke-width="1.5"/></svg>
<svg style="position:absolute;left:314.4px;top:62px;" width="10.2" height="13" viewBox="0 0 21 27"><rect x="1.2" y="11.2" width="18.6" height="14.4" rx="2.6" fill="none" stroke="#3d4258" stroke-width="2"/><path d="M4.8 11 V7.4 a5.7 5.7 0 0 1 11.4 0 V11" fill="none" stroke="#3d4258" stroke-width="2"/><circle cx="10.5" cy="17" r="2" fill="none" stroke="#3d4258" stroke-width="1.6"/><path d="M10.5 19 V22" stroke="#3d4258" stroke-width="1.6"/></svg>
<div class="t " style="left:331.15px;top:64px;font-size:9.8px;color:#3d4258;transform-origin:0 0;transform:scaleX(0.9018) rotate(0.04deg);">Déjà réservé</div>
<div class="t " style="left:315.95px;top:88.65px;font-size:9.7px;color:#6f7383;transform-origin:0 0;transform:scaleX(0.9479) rotate(0.04deg);">Vendredi 27 septembre -</div>
<div class="t " style="left:420.05px;top:88.65px;font-size:9.7px;color:#6f7383;transform-origin:0 0;transform:scaleX(0.9021) rotate(0.04deg);">10h</div>
<svg style="position:absolute;left:439px;top:89.6px;" width="9" height="7.8" viewBox="0 0 20 18"><g><path d="M2.4 9 H16.4 M10.2 2.6 L16.8 9 L10.2 15.4" fill="none" stroke="#4a4f63" stroke-width="3.6" stroke-linecap="round" stroke-linejoin="round"/></g></svg>
<div class="t " style="left:451.25px;top:88.65px;font-size:9.7px;color:#6f7383;transform-origin:0 0;transform:scaleX(0.9398) rotate(0.04deg);">Samedi 01 novembre 16h</div>
</div>
</body>
</html>
